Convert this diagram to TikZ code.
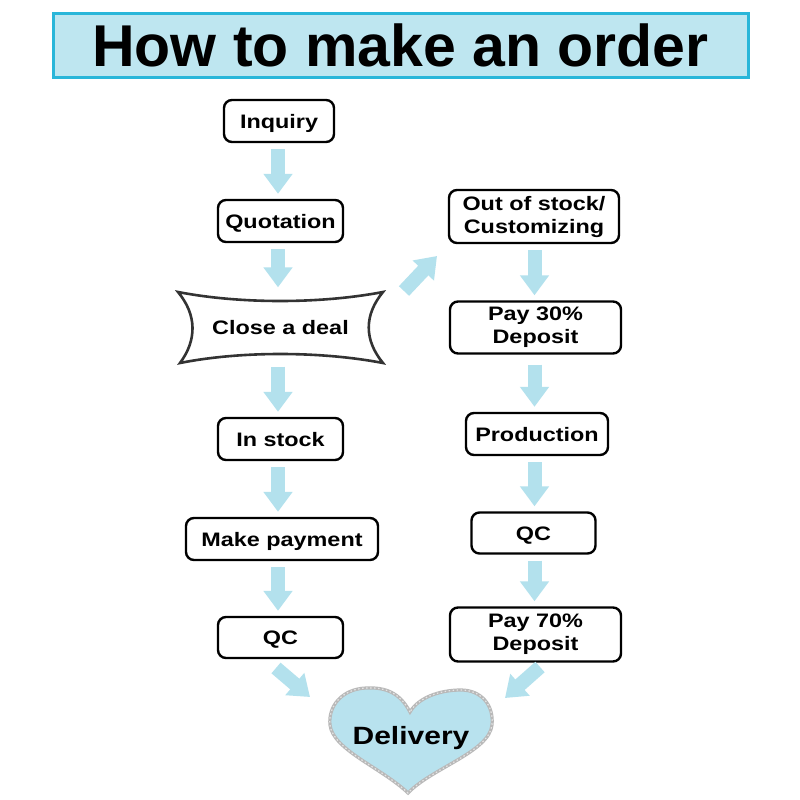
\documentclass[tikz,border=0pt]{standalone}
\usepackage{fontspec}
\setmainfont{Liberation Sans}
\newfontfamily\labfont{Liberation Sans}[FakeStretch=1.2]
\usetikzlibrary{arrows.meta}
\definecolor{arrowblue}{HTML}{B3E1ED}
\definecolor{titlefill}{HTML}{BEE6F0}
\definecolor{titleline}{HTML}{29B6D9}
\definecolor{heartfill}{HTML}{B8E2EE}
\begin{document}
\begin{tikzpicture}[x=1pt,y=-1pt,
  labf/.style={font=\labfont\bfseries\fontsize{19.5}{23}\selectfont},
  box/.style={labf, draw, line width=2.4pt, rounded corners=8pt, fill=white, inner sep=0pt},
  onebox/.style={box, text height=14pt, text depth=0pt},
  twobox/.style={box, align=center},
  flow/.style={arrowblue, line width=14pt, -{Triangle[width=28pt,length=20pt]}, shorten <=6pt, shorten >=5pt},
  diag/.style={arrowblue, line width=14pt, -{Triangle[width=28pt,length=20pt]}}
]
\useasboundingbox (0,0) rectangle (800,800);
\fill[white] (0,0) rectangle (800,800);

% title
\node[draw=titleline, fill=titlefill, line width=3pt, minimum width=695pt, minimum height=63pt,
      inner sep=0pt, font=\bfseries\fontsize{59}{59}\selectfont, text height=42pt, text depth=0pt]
      (title) at (400.5,45.5) {How to make an order};

% left column
\node[onebox, minimum width=110pt, minimum height=42pt] (inq) at (279,121) {Inquiry};
\node[onebox, minimum width=125pt, minimum height=42pt] (quo) at (280.5,221) {Quotation};
\path[draw=black!80, line width=2.6pt, fill=white]
  (178,292) .. controls (240,304) and (320,304) .. (383,292)
  .. controls (364,315) and (364,340) .. (383,363)
  .. controls (320,351) and (240,351) .. (180,363)
  .. controls (197,340) and (197,315) .. (178,292) -- cycle;
\node[labf, minimum width=206pt, minimum height=70pt, inner sep=0pt, text height=14pt, text depth=0pt]
  (deal) at (280.5,327.5) {Close a deal};
\node[onebox, minimum width=125pt, minimum height=42pt] (ins) at (280.5,439) {In stock};
\node[onebox, minimum width=192pt, minimum height=42pt] (pay) at (282,539) {Make payment};
\node[onebox, minimum width=125pt, minimum height=41pt] (qcl) at (280.5,637.5) {QC};

% right column
\node[twobox, minimum width=170pt, minimum height=53pt] (oos) at (534,216.5) {Out of stock/\\Customizing};
\node[twobox, minimum width=171pt, minimum height=52pt] (p30) at (535.5,327.5) {Pay 30\%\\Deposit};
\node[onebox, minimum width=142pt, minimum height=42pt] (prod) at (537,434) {Production};
\node[onebox, minimum width=124pt, minimum height=41pt] (qcr) at (533.5,533) {QC};
\node[twobox, minimum width=171pt, minimum height=54pt] (p70) at (535.5,634.5) {Pay 70\%\\Deposit};

% heart
\path[fill=heartfill, draw=gray!55, line width=3.2pt]
  (410,712) .. controls (400,693) and (386,687) .. (366,688)
  .. controls (342,689) and (328,706) .. (330,725)
  .. controls (333,750) and (382,768) .. (408,793)
  .. controls (432,768) and (489,752) .. (492,725)
  .. controls (494,705) and (481,690) .. (461,690)
  .. controls (439,690) and (418,698) .. (410,712) -- cycle;
\path[draw=gray!20, line width=1.2pt, dash pattern=on 1.5pt off 2.5pt]
  (410,712) .. controls (400,693) and (386,687) .. (366,688)
  .. controls (342,689) and (328,706) .. (330,725)
  .. controls (333,750) and (382,768) .. (408,793)
  .. controls (432,768) and (489,752) .. (492,725)
  .. controls (494,705) and (481,690) .. (461,690)
  .. controls (439,690) and (418,698) .. (410,712) -- cycle;
\node[font=\labfont\bfseries\fontsize{25}{25}\selectfont, inner sep=0pt, text height=18pt, text depth=0pt]
  (del) at (411,735) {Delivery};

% arrows
\coordinate (colL) at (278,0);
\coordinate (colR) at (534.5,0);
\draw[flow] (inq.south -| colL) -- (quo.north -| colL);
\draw[flow] (quo.south -| colL) -- (deal.north -| colL);
\draw[flow, shorten <=4pt] (deal.south -| colL) -- (ins.north -| colL);
\draw[flow] (ins.south -| colL) -- (pay.north -| colL);
\draw[flow] (pay.south -| colL) -- (qcl.north -| colL);

\draw[flow] (oos.south -| colR) -- (p30.north -| colR);
\draw[flow, shorten <=10pt] (p30.south -| colR) -- (prod.north -| colR);
\draw[flow] (prod.south -| colR) -- (qcr.north -| colR);
\draw[flow] (qcr.south -| colR) -- (p70.north -| colR);

\coordinate (d1) at (404,291);
\coordinate (d2) at (437,256);
\draw[diag] (d1) -- (d2);
\coordinate (b1) at (276,668);
\coordinate (b2) at (310,697);
\draw[diag] (b1) -- (b2);
\coordinate (b3) at (540,667);
\coordinate (b4) at (505,698);
\draw[diag] (b3) -- (b4);
\end{tikzpicture}
\end{document}
